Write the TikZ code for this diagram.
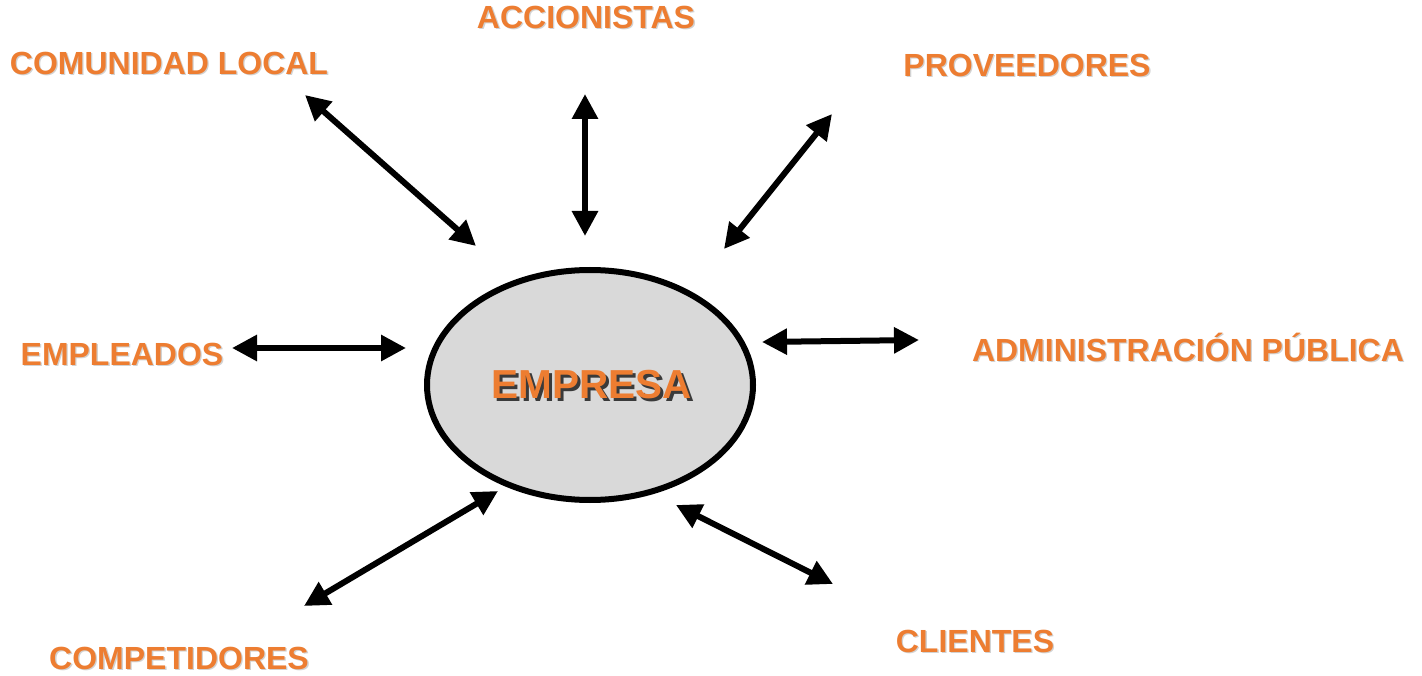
\documentclass[tikz,border=0pt]{standalone}
\usepackage{fontspec}
\setmainfont{Liberation Sans}
\usetikzlibrary{arrows.meta,shapes.geometric}
\definecolor{lblorange}{HTML}{ED7D31}
\definecolor{ellgray}{HTML}{D9D9D9}
\definecolor{lblshade}{HTML}{D2D2D2}
\definecolor{empshade}{HTML}{3A3A3A}
\newcommand{\shtxt}[4]{{\color{#2}\rlap{\kern#3\raisebox{-#3}{#1}}}{\color{#4}#1}}
\tikzset{
  lbl/.style={font=\fontsize{32}{32}\selectfont\bfseries, inner sep=0pt, anchor=center},
  link/.style={line width=6pt, {Triangle[length=25pt,width=25pt]}-{Triangle[length=25pt,width=25pt]}, shorten <=0pt, shorten >=0pt},
}
\begin{document}
\begin{tikzpicture}[x=1pt,y=-1pt]
\useasboundingbox (0,0) rectangle (1422,676);
\fill[white] (0,0) rectangle (1422,676);

\node[draw=black, line width=6pt, fill=ellgray, ellipse, minimum width=326pt, minimum height=230pt, inner sep=0pt] (emp) at (590,385) {};
\node[font=\fontsize{40.5}{40.5}\selectfont\bfseries, inner sep=0pt] (emptxt) at (592,386) {\shtxt{EMPRESA}{empshade}{2.5pt}{lblorange}};

\node[lbl] (acc) at (586,18) {\shtxt{ACCIONISTAS}{lblshade}{1.3pt}{lblorange}};
\node[lbl] (com) at (169,64) {\shtxt{COMUNIDAD LOCAL}{lblshade}{1.3pt}{lblorange}};
\node[lbl] (pro) at (1027,66) {\shtxt{PROVEEDORES}{lblshade}{1.3pt}{lblorange}};
\node[lbl] (epl) at (122,355) {\shtxt{EMPLEADOS}{lblshade}{1.3pt}{lblorange}};
\node[lbl] (adm) at (1188,348) {\shtxt{ADMINISTRACIÓN PÚBLICA}{lblshade}{1.3pt}{lblorange}};
\node[lbl] (cmp) at (179,659) {\shtxt{COMPETIDORES}{lblshade}{1.3pt}{lblorange}};
\node[lbl] (cli) at (975,642) {\shtxt{CLIENTES}{lblshade}{1.3pt}{lblorange}};

\coordinate (comA) at (305,95);   \coordinate (comB) at (476,246);
\coordinate (accA) at (585,94);   \coordinate (accB) at (585,236);
\coordinate (proA) at (832,114);  \coordinate (proB) at (724,249);
\coordinate (eplA) at (232,348);  \coordinate (eplB) at (406,348);
\coordinate (admA) at (762,342);  \coordinate (admB) at (919,340);
\coordinate (cmpA) at (304,606);  \coordinate (cmpB) at (498,491);
\coordinate (cliA) at (676,505);  \coordinate (cliB) at (833,584);

\draw[link] (comA) -- (comB);
\draw[link] (accA) -- (accB);
\draw[link] (proA) -- (proB);
\draw[link] (eplA) -- (eplB);
\draw[link] (admA) -- (admB);
\draw[link] (cmpA) -- (cmpB);
\draw[link] (cliA) -- (cliB);
\end{tikzpicture}
\end{document}
